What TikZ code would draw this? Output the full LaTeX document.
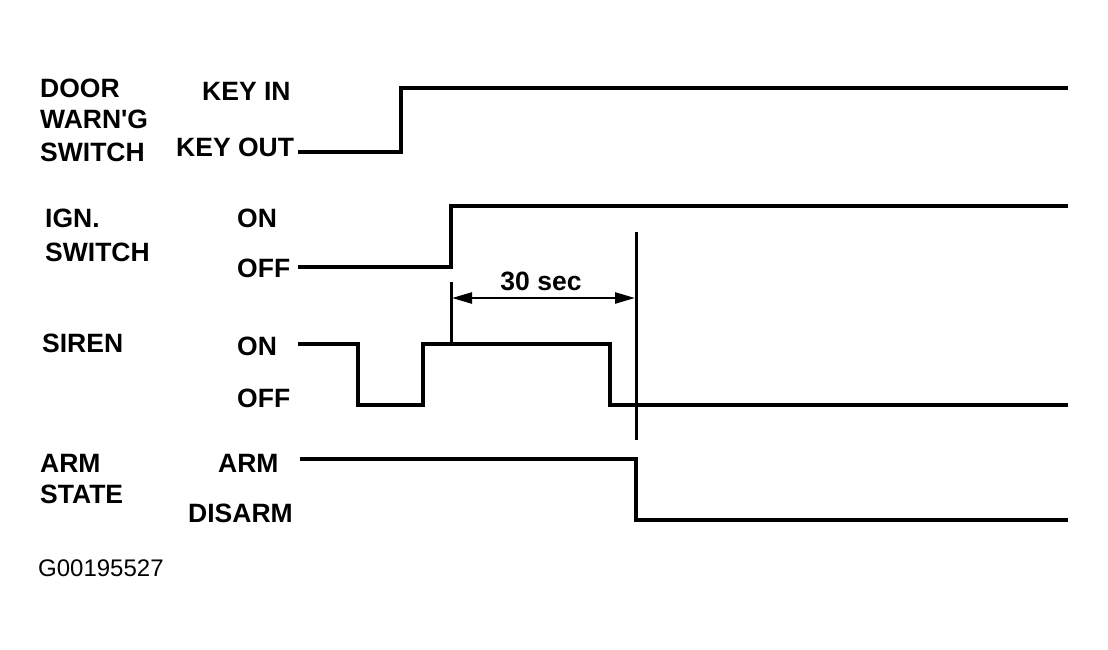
\documentclass[tikz,border=0pt]{standalone}
\usepackage{fontspec}
\setmainfont{Liberation Sans}[Ligatures=ResetAll]
\usetikzlibrary{arrows.meta}
\newcommand{\sq}{\XeTeXglyph\XeTeXglyphindex "quotesingle"\relax}
\begin{document}
\begin{tikzpicture}[x=1pt,y=-1pt,
  lbl/.style={inner sep=0pt,anchor=base west,font=\fontsize{26.5}{30}\selectfont\bfseries},
  sig/.style={line width=3.5pt,line join=miter},
  guide/.style={line width=3pt},
  dim/.style={line width=2.5pt,{Triangle[length=20pt,width=11pt]}-{Triangle[length=20pt,width=11pt]}}]
\useasboundingbox (0,0) rectangle (1108,649);
% left labels
\node[lbl] (door) at (40,97) {DOOR};
\node[lbl] (warn) at (40,128) {WARN\sq G};
\node[lbl] (sw1) at (40,161) {SWITCH};
\node[lbl] (ign) at (45,227) {IGN.};
\node[lbl] (sw2) at (45,261) {SWITCH};
\node[lbl] (siren) at (42,352) {SIREN};
\node[lbl] (arm) at (40,472) {ARM};
\node[lbl] (state) at (40,503) {STATE};
% level labels
\node[lbl] (keyin) at (202,100) {KEY IN};
\node[lbl] (keyout) at (176,156) {KEY OUT};
\node[lbl] (ion) at (237,227) {ON};
\node[lbl] (ioff) at (237,277) {OFF};
\node[lbl] (son) at (237,355) {ON};
\node[lbl] (soff) at (237,407) {OFF};
\node[lbl] (aarm) at (218,472) {ARM};
\node[lbl] (adis) at (188,522) {DISARM};
\node[inner sep=0pt,anchor=base west,font=\fontsize{24}{28}\selectfont] (gid) at (38,576) {G00195527};
% signals
\draw[sig] (298,152) -- (401,152) -- (401,88) -- (1068,88);
\draw[sig] (298,267) -- (451,267) -- (451,206) -- (1068,206);
\draw[sig] (298,344) -- (358,344) -- (358,405) -- (423,405) -- (423,344) -- (610,344) -- (610,405) -- (1068,405);
\draw[sig] (300,459) -- (636,459) -- (636,520) -- (1068,520);
% guides
\coordinate (g1t) at (451,282);
\coordinate (g1b) at (451,344);
\coordinate (g2t) at (636,232);
\coordinate (g2b) at (636,440);
\draw[guide] (g1t) -- (g1b);
\draw[guide] (g2t) -- (g2b);
\coordinate (a1) at (452,298);
\coordinate (a2) at (635,298);
\draw[dim] (a1) -- (a2);
\node[lbl,anchor=base] (sec) at (541,290) {30 sec};
\end{tikzpicture}
\end{document}
